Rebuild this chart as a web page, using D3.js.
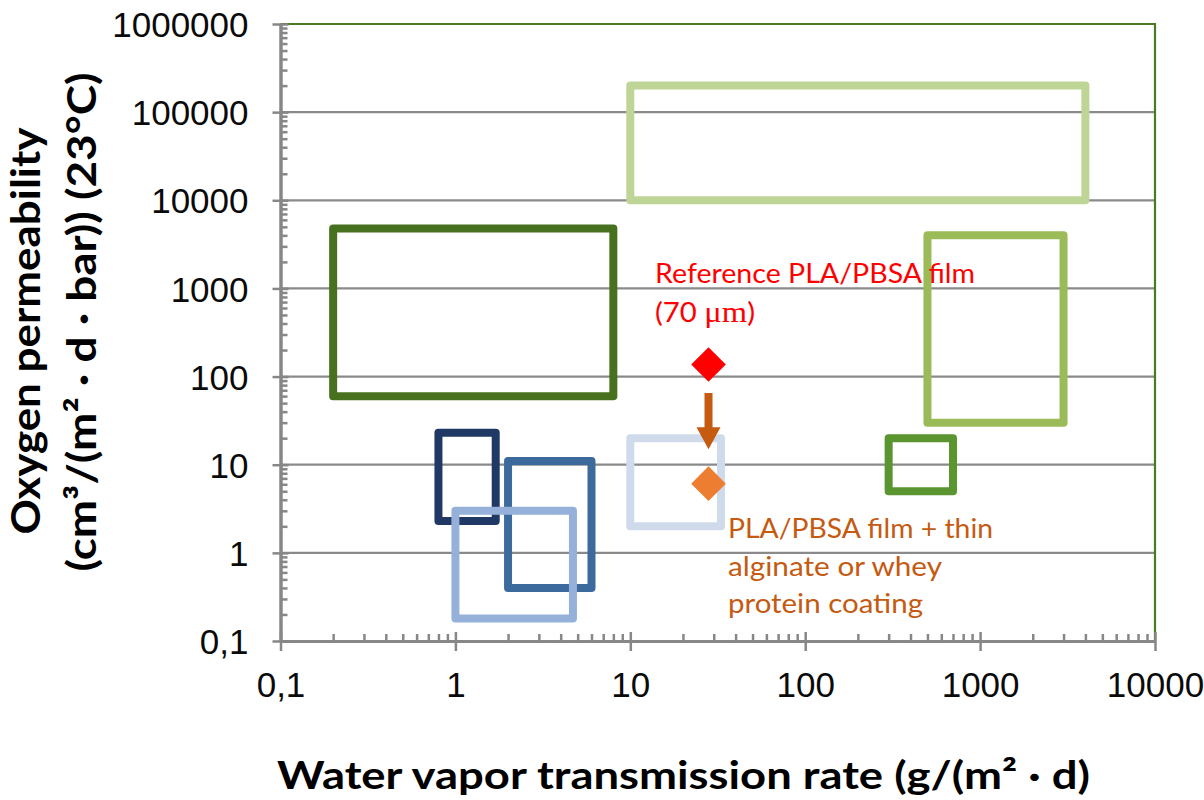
<!DOCTYPE html>
<html>
<head>
<meta charset="utf-8">
<script src="https://cdn.jsdelivr.net/npm/d3@7/dist/d3.min.js"></script>
<style>
  body { margin: 0; background: #fff; }
</style>
</head>
<body>
<div id="root"></div>
<script>
// material ranges: water vapour (x) and oxygen permeability (y)
const boxX0 = [0.2, 10, 500, 300, 0.8, 2, 1, 10];
const boxX1 = [8, 4000, 3000, 700, 1.7, 6, 4.7, 33];
const boxY0 = [60, 10000, 30, 5, 2.3, 0.4, 0.18, 2];
const boxY1 = [4800, 200000, 4000, 20, 23, 11, 3, 20];
const boxColors = ["#48711f", "#bfd596", "#9bbb59", "#5a9530", "#1f3864", "#3d6a9d", "#95b1d9", "#cfdbeb"];

// the two films
const filmX = [28, 28];
const filmY = [137, 6.1];
const filmColors = ["#ff0000", "#ed7d31"];
// arrow between them
const arrowX = 28;
const arrowFrom = 65;
const arrowTo = 15;

const xTicks = [0.1, 1, 10, 100, 1000, 10000];
const xTickLabels = ["0,1", "1", "10", "100", "1000", "10000"];
const yTicks = [0.1, 1, 10, 100, 1000, 10000, 100000, 1000000];
const yTickLabels = ["0,1", "1", "10", "100", "1000", "10000", "100000", "1000000"];

const width = 1204;
const height = 800;
const plot = { left: 280.5, right: 1155, top: 24, bottom: 641 };

const svg = d3.select("#root").append("svg")
  .attr("width", width)
  .attr("height", height)
  .style("display", "block");

const x = d3.scaleLog().domain([0.1, 10000]).range([plot.left, plot.right]);
const y = d3.scaleLog().domain([0.1, 1000000]).range([plot.bottom, plot.top]);

const isMajor = d => Math.abs(Math.log10(d) - Math.round(Math.log10(d))) < 1e-9;
const xMinor = x.ticks().filter(d => !isMajor(d));
const yMinor = y.ticks().filter(d => !isMajor(d));

// grid lines
svg.append("g")
  .selectAll("line")
  .data(yTicks.slice(1, -1))
  .enter()
  .append("line")
  .attr("x1", plot.left)
  .attr("x2", plot.right)
  .attr("y1", d => y(d))
  .attr("y2", d => y(d))
  .attr("stroke", "#8a8a8a")
  .attr("stroke-width", 2.2);

// top and right border
svg.append("path")
  .attr("d", `M${plot.left},${y(1000000)}H${x(10000)}V${plot.bottom}`)
  .attr("fill", "none")
  .attr("stroke", "#4b7a25")
  .attr("stroke-width", 2.2);

// boxes
svg.append("g")
  .selectAll("rect")
  .data(boxColors)
  .enter()
  .append("rect")
  .attr("x", (d, i) => x(boxX0[i]))
  .attr("y", (d, i) => y(boxY1[i]))
  .attr("width", (d, i) => x(boxX1[i]) - x(boxX0[i]))
  .attr("height", (d, i) => y(boxY0[i]) - y(boxY1[i]))
  .attr("fill", "none")
  .attr("stroke", d => d)
  .attr("stroke-width", 8)
  .attr("stroke-linejoin", "round");

// axes
const axisColor = "#878787";
const tickFont = "'Liberation Sans', Arial, sans-serif";

const xAxis = svg.append("g")
  .attr("transform", `translate(0,${plot.bottom})`)
  .call(d3.axisBottom(x).tickValues(xTicks).tickFormat((d, i) => xTickLabels[i]).tickSize(10).tickSizeOuter(0));
xAxis.selectAll(".tick line").attr("y1", -9);
xAxis.selectAll(".tick text")
  .attr("y", 56).attr("dy", 0)
  .style("font-family", tickFont).style("font-size", "35px").attr("fill", "#0a0a0a");

const xAxisMinor = svg.append("g")
  .attr("transform", `translate(0,${plot.bottom})`)
  .call(d3.axisTop(x).tickValues(xMinor).tickFormat("").tickSize(7).tickSizeOuter(0));

const yAxis = svg.append("g")
  .attr("transform", `translate(${plot.left},0)`)
  .call(d3.axisLeft(y).tickValues(yTicks).tickFormat((d, i) => yTickLabels[i]).tickSize(8).tickSizeOuter(0));
yAxis.selectAll(".tick line").attr("x1", 8);
yAxis.selectAll(".tick text")
  .attr("x", -32).attr("dy", "0.36em")
  .style("font-family", tickFont).style("font-size", "35px").attr("fill", "#0a0a0a");

const yAxisMinor = svg.append("g")
  .attr("transform", `translate(${plot.left},0)`)
  .call(d3.axisRight(y).tickValues(yMinor).tickFormat("").tickSize(7).tickSizeOuter(0));

[xAxis, xAxisMinor, yAxis, yAxisMinor].forEach(a => {
  a.selectAll("path.domain").attr("stroke", axisColor).attr("stroke-width", 3);
  a.selectAll(".tick line").attr("stroke", axisColor).attr("stroke-width", 2.5);
});

// arrow
const ax = x(arrowX);
const ay0 = y(arrowFrom);
const ay1 = y(arrowTo);
svg.append("path")
  .attr("d", `M${ax - 4},${ay0}H${ax + 4}V${ay1 - 22}H${ax + 12}L${ax},${ay1}L${ax - 12},${ay1 - 22}H${ax - 4}Z`)
  .attr("fill", "#c55a11");

// diamonds
svg.append("g")
  .selectAll("path")
  .data(filmColors)
  .enter()
  .append("path")
  .attr("d", d3.symbol(d3.symbolSquare, 600))
  .attr("transform", (d, i) => `translate(${x(filmX[i])},${y(filmY[i])}) rotate(45)`)
  .attr("fill", d => d);

// annotations
const noteFont = "Lato, 'Open Sans', sans-serif";
svg.append("text")
  .attr("x", 655).attr("y", 283)
  .attr("textLength", 320).attr("lengthAdjust", "spacingAndGlyphs")
  .style("font-family", noteFont).style("font-size", "26px")
  .attr("fill", "#ff0000")
  .text("Reference PLA/PBSA film");

const t70 = svg.append("text")
  .attr("x", 655).attr("y", 322)
  .attr("textLength", 100).attr("lengthAdjust", "spacingAndGlyphs")
  .style("font-family", noteFont).style("font-size", "27px")
  .attr("fill", "#ff0000");
t70.append("tspan").text("(70 ");
t70.append("tspan").style("font-family", "'Liberation Serif', serif").style("font-size", "30px").text("μm");
t70.append("tspan").text(")");

const coatLines = ["PLA/PBSA film + thin", "alginate or whey", "protein coating"];
const coatLengths = [265, 214, 195];
svg.append("g")
  .selectAll("text")
  .data(coatLines)
  .enter()
  .append("text")
  .attr("x", 728)
  .attr("y", (d, i) => 538 + i * 37.5)
  .attr("textLength", (d, i) => coatLengths[i]).attr("lengthAdjust", "spacingAndGlyphs")
  .style("font-family", noteFont).style("font-size", "26px")
  .attr("fill", "#c55a11")
  .text(d => d);

// axis titles
const titleFont = "Lato, 'Open Sans', sans-serif";
svg.append("text")
  .attr("x", 683.5).attr("y", 789)
  .attr("text-anchor", "middle")
  .attr("textLength", 813).attr("lengthAdjust", "spacingAndGlyphs")
  .style("font-family", titleFont).style("font-size", "39px").style("font-weight", "bold")
  .attr("fill", "#000")
  .text("Water vapor transmission rate (g/(m² · d)");

const yTitle = svg.append("g").attr("transform", "rotate(-90)");
yTitle.append("text")
  .attr("x", -331).attr("y", 40)
  .attr("text-anchor", "middle")
  .attr("textLength", 407).attr("lengthAdjust", "spacingAndGlyphs")
  .style("font-family", titleFont).style("font-size", "40px").style("font-weight", "bold")
  .text("Oxygen permeability");
yTitle.append("text")
  .attr("x", -322).attr("y", 96)
  .attr("text-anchor", "middle")
  .attr("textLength", 499).attr("lengthAdjust", "spacingAndGlyphs")
  .style("font-family", titleFont).style("font-size", "40px").style("font-weight", "bold")
  .text("(cm³/(m² · d · bar)) (23°C)");
</script>
</body>
</html>
